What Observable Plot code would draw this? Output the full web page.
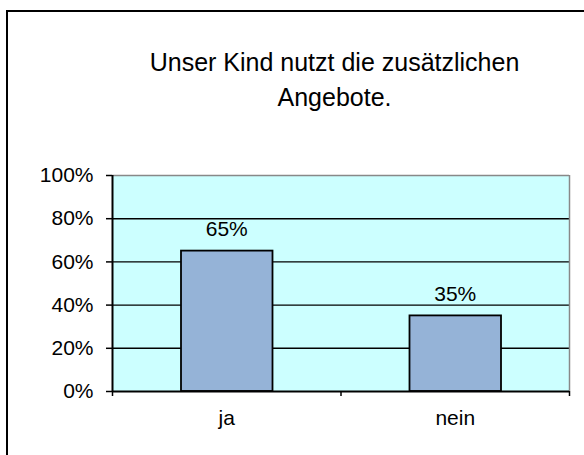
<!DOCTYPE html>
<html>
<head>
<meta charset="utf-8">
<script src="https://cdn.jsdelivr.net/npm/d3@7"></script>
<script src="https://cdn.jsdelivr.net/npm/@observablehq/plot@0.6"></script>
<style>
  html, body { margin: 0; padding: 0; background: #fff; }
  #chart { position: relative; width: 584px; height: 455px; overflow: hidden; }
</style>
</head>
<body>
<div id="chart"></div>
<script>
const titleText = "Unser Kind nutzt die zusätzlichen\nAngebote.";
const categories = ["ja", "nein"];
const values = [0.65, 0.35];
const yTicks = [0, 0.2, 0.4, 0.6, 0.8, 1.0];
const gridTicks = [0.2, 0.4, 0.6, 0.8];

const data = categories.map((c, i) => ({cat: c, idx: i, value: values[i]}));
const pct = d3.format(".0%");
const FONT = "'Liberation Sans', Arial, sans-serif";

const chart = Plot.plot({
  width: 584,
  height: 455,
  marginLeft: 112,
  marginRight: 15,
  marginTop: 175,
  marginBottom: 64,
  style: {fontFamily: FONT, fontSize: "21px", color: "#000", background: "transparent", overflow: "visible"},
  x: {type: "linear", domain: [0, categories.length]},
  y: {domain: [0, 1]},
  marks: [
    Plot.frame({fill: "#ccffff", stroke: null}),
    Plot.ruleY(gridTicks, {stroke: "#000", strokeWidth: 1.4}),
    Plot.ruleY([1], {stroke: "#888", strokeWidth: 1.5}),
    Plot.ruleX([categories.length], {stroke: "#888", strokeWidth: 1.5}),
    Plot.rectY(data, {x1: "idx", x2: d => d.idx + 1, y: "value", fill: "#95b3d7", stroke: "#000", strokeWidth: 1.8, insetLeft: 69, insetRight: 68}),
    Plot.text(data, {x: d => d.idx + 0.5, y: "value", text: d => pct(d.value), dy: -22, fontSize: 21, fill: "#000", lineAnchor: "middle"}),
    Plot.ruleX([0], {stroke: "#000", strokeWidth: 2}),
    Plot.ruleY([0], {stroke: "#000", strokeWidth: 2}),
    Plot.axisY({ticks: yTicks, tickFormat: pct, tickSize: 6, tickPadding: 13, stroke: "#000", strokeWidth: 1.5, fontSize: 21, label: null}),
    Plot.axisX({ticks: d3.range(categories.length + 1), tickFormat: () => "", tickSize: 5, stroke: "#000", strokeWidth: 1.5, label: null}),
    Plot.text(data, {x: d => d.idx + 0.5, frameAnchor: "bottom", text: "cat", dy: 27, fontSize: 21, fill: "#000", lineAnchor: "middle"}),
    Plot.text([titleText], {frameAnchor: "top", dx: -6.5, dy: -98.5, fontSize: 25, lineHeight: 1.4, fill: "#000", lineAnchor: "middle"})
  ]
});

d3.select(chart).insert("rect", ":first-child")
  .attr("x", 7).attr("y", 11).attr("width", 700).attr("height", 600)
  .attr("fill", "#fff").attr("stroke", "#000").attr("stroke-width", 2);

document.getElementById("chart").appendChild(chart);
</script>
</body>
</html>
